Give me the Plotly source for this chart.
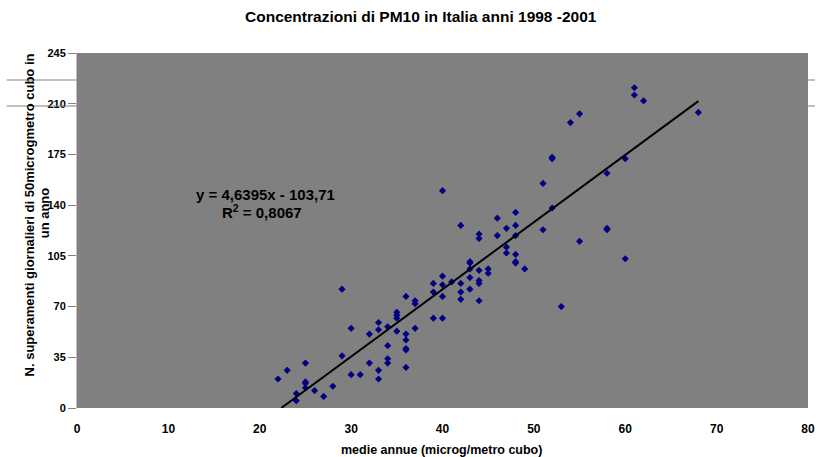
import plotly.graph_objects as go

# Annual mean PM10 (microg/m3) per station and number of days above 50 microg/m3
pm10_mean = [
    29, 36, 37, 37, 35, 35, 35, 33, 33, 30, 32, 34, 35, 36, 36, 37, 36, 36, 34,
    25, 23, 22, 29, 32, 34, 34, 33, 33, 36, 30, 31, 25, 25, 25, 28, 26, 27, 24, 24,
    40, 51, 52, 51, 48, 46, 42, 44, 44, 47, 48, 46, 48, 47, 47, 48, 48, 48, 49,
    45, 45, 43, 43, 43, 44, 41, 40, 39, 40, 42, 43, 44, 44, 39, 40, 42, 43, 42, 44,
    39, 40, 53,
    61, 61, 62, 68, 55, 54, 52, 52, 60, 58, 58, 58, 60, 55,
]
days_over_50 = [
    82, 77, 74, 72, 66, 64, 62, 59, 54, 55, 51, 56, 53, 51, 47, 55, 41, 40, 43,
    31, 26, 20, 36, 31, 34, 31, 26, 20, 28, 23, 23, 18, 17, 14, 15, 12, 8, 10, 5,
    150, 155, 138, 123, 135, 131, 126, 120, 117, 124, 126, 119, 119, 111, 107, 106, 101, 100, 96,
    96, 93, 101, 100, 96, 95, 87, 91, 86, 85, 86, 90, 88, 86, 80, 77, 80, 82, 75, 74,
    62, 62, 70,
    221, 216, 212, 204, 203, 197, 173, 172, 172, 162, 124, 123, 103, 115,
]

# Linear trend as stated on the chart
slope = 4.6395
intercept = -103.71
r_squared = 0.8067

x_ticks = [0, 10, 20, 30, 40, 50, 60, 70, 80]
y_ticks = [0, 35, 70, 105, 140, 175, 210, 245]

chart_title = "Concentrazioni di PM10 in Italia anni 1998 -2001"
x_title = "medie annue (microg/metro cubo)"
y_title_1 = "N. superamenti giornalieri di 50microgmetro cubo in"
y_title_2 = "un anno"

FONT = "Liberation Sans, Arial, sans-serif"

x_start = -intercept / slope
x_end = max(pm10_mean)
trend_x = [x_start, x_end]
trend_y = [slope * v + intercept for v in trend_x]

fig = go.Figure()
fig.add_trace(go.Scatter(
    x=pm10_mean, y=days_over_50, mode="markers",
    marker=dict(symbol="diamond", size=5.5, color="#000080",
                line=dict(width=0)),
    showlegend=False, hoverinfo="x+y",
))
fig.add_trace(go.Scatter(
    x=trend_x, y=trend_y, mode="lines",
    line=dict(color="black", width=2),
    showlegend=False, hoverinfo="skip",
))

def fmt(v, nd):
    return f"{v:.{nd}f}".replace(".", ",")

eq_text = f"y = {fmt(slope, 4)}x - {fmt(-intercept, 2)}"
r2_text = f"R<sup>2</sup> = {fmt(r_squared, 4)}"

# paper coordinates of the plot frame: 738 px wide, 355 px tall
def px_x(p):
    return (p - 77) / 738

def px_y(p):
    return (408 - p) / 355

annotations = [
    dict(text=chart_title, xref="paper", yref="paper", x=px_x(424), y=px_y(17),
         xanchor="center", yanchor="middle", showarrow=False,
         font=dict(family=FONT, size=15.5, color="black", weight="bold")),
    dict(text=x_title, xref="paper", yref="paper", x=px_x(445), y=px_y(450),
         xanchor="center", yanchor="middle", showarrow=False,
         font=dict(family=FONT, size=12.5, color="black", weight="bold")),
    dict(text=y_title_1, xref="paper", yref="paper", x=px_x(30), y=px_y(215),
         xanchor="center", yanchor="middle", showarrow=False, textangle=-90,
         font=dict(family=FONT, size=13, color="black", weight="bold")),
    dict(text=y_title_2, xref="paper", yref="paper", x=px_x(45), y=px_y(213),
         xanchor="center", yanchor="middle", showarrow=False, textangle=-90,
         font=dict(family=FONT, size=13, color="black", weight="bold")),
    dict(text=eq_text, xref="paper", yref="paper", x=px_x(267.5), y=px_y(194),
         xanchor="center", yanchor="middle", showarrow=False,
         font=dict(family=FONT, size=15, color="black", weight="bold")),
    dict(text=r2_text, xref="paper", yref="paper", x=px_x(263.5), y=px_y(212),
         xanchor="center", yanchor="middle", showarrow=False,
         font=dict(family=FONT, size=15, color="black", weight="bold")),
]

# thin grey rules running past the plot frame
shapes = []
for yp in [px_y(80), px_y(106)]:
    shapes.append(dict(type="line", xref="paper", yref="paper",
                       x0=px_x(6), x1=0, y0=yp, y1=yp,
                       line=dict(color="#808080", width=1)))
    shapes.append(dict(type="line", xref="paper", yref="paper",
                       x0=1, x1=px_x(822), y0=yp, y1=yp,
                       line=dict(color="#808080", width=1)))

fig.update_layout(
    width=822, height=457,
    margin=dict(l=77, r=7, t=53, b=49, pad=0),
    paper_bgcolor="white", plot_bgcolor="#808080",
    font=dict(family=FONT, color="black"),
    annotations=annotations, shapes=shapes,
    xaxis=dict(range=[0, 80], tickvals=x_ticks, ticktext=[str(v) for v in x_ticks],
               showgrid=False, zeroline=False, showline=False, ticks="",
               ticklabelstandoff=12,
               tickfont=dict(family=FONT, size=12, color="black", weight="bold")),
    yaxis=dict(range=[0, 245], tickvals=y_ticks, ticktext=[str(v) for v in y_ticks],
               showgrid=False, zeroline=False, showline=True, linecolor="#c0c0c0",
               linewidth=1, ticks="outside", ticklen=8, tickcolor="#808080",
               tickwidth=1,
               tickfont=dict(family=FONT, size=11, color="black", weight="bold")),
)

fig.write_html("out.html")
